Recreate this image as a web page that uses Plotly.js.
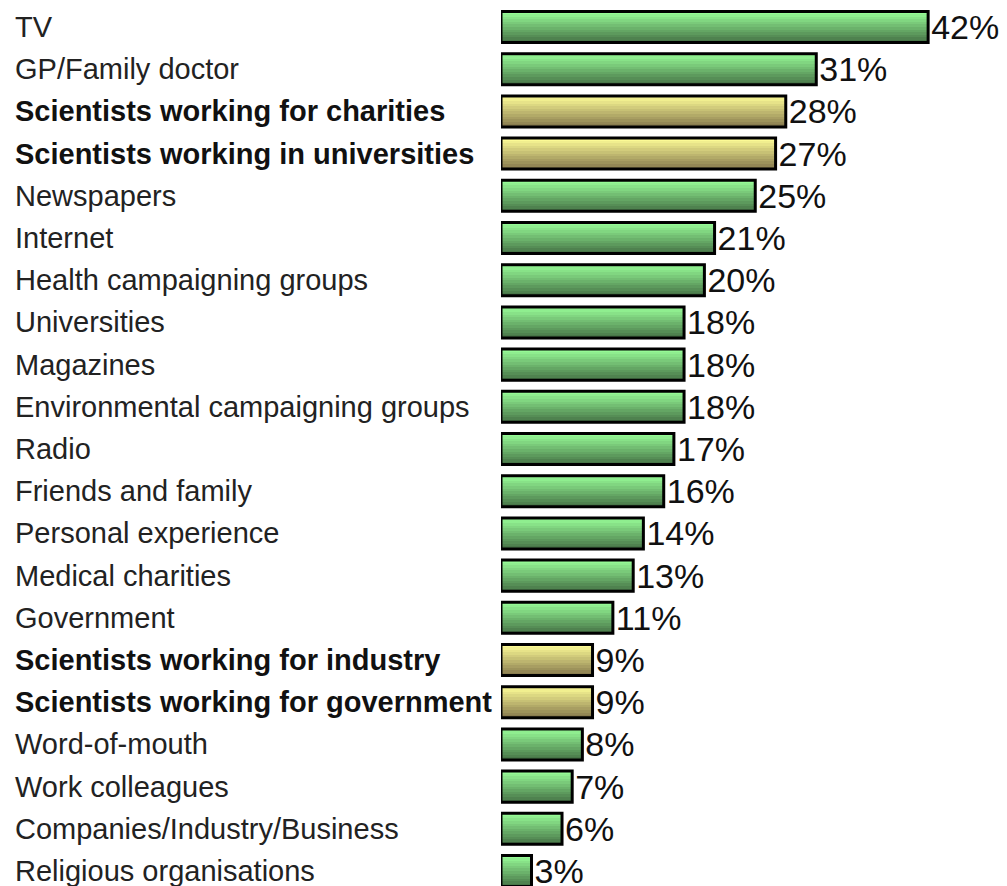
<!DOCTYPE html>
<html>
<head>
<meta charset="utf-8">
<script src="https://cdn.plot.ly/plotly-3.0.1.min.js"></script>
<style>html,body{margin:0;padding:0;background:#fff;}#chart{width:1007px;height:886px;}</style>
</head>
<body>
<div id="chart"></div>
<script>
const categories = [
  "TV", "GP/Family doctor", "Scientists working for charities", "Scientists working in universities",
  "Newspapers", "Internet", "Health campaigning groups", "Universities", "Magazines",
  "Environmental campaigning groups", "Radio", "Friends and family", "Personal experience",
  "Medical charities", "Government", "Scientists working for industry",
  "Scientists working for government", "Word-of-mouth", "Work colleagues",
  "Companies/Industry/Business", "Religious organisations"
];
const values = [42, 31, 28, 27, 25, 21, 20, 18, 18, 18, 17, 16, 14, 13, 11, 9, 9, 8, 7, 6, 3];
const isScientist = [false, false, true, true, false, false, false, false, false, false, false,
  false, false, false, false, true, true, false, false, false, false];

// style: vertical gradient stripes (top light -> bottom dark)
const greenTop = [150, 250, 150], greenBot = [72, 118, 72];
const yellowTop = [252, 250, 150], yellowBot = [136, 124, 78];
const NSTRIPE = 12;
const BW = 0.735;

function mix(a, b, t) {
  return 'rgb(' + a.map((v, i) => Math.round(v + (b[i] - v) * t)).join(',') + ')';
}

const traces = [];
for (let s = 0; s < NSTRIPE; s++) {
  const t = s / (NSTRIPE - 1);
  traces.push({
    type: 'bar', orientation: 'h',
    y: categories, x: values,
    width: BW / NSTRIPE + 0.002,
    offset: -BW / 2 + s * BW / NSTRIPE,
    marker: {
      color: isScientist.map(sc => sc ? mix(yellowTop, yellowBot, t) : mix(greenTop, greenBot, t)),
      line: {width: 0}
    },
    hoverinfo: 'skip', showlegend: false
  });
}
traces.push({
  type: 'bar', orientation: 'h',
  y: categories, x: values,
  width: BW, offset: -BW / 2,
  marker: {color: 'rgba(0,0,0,0)', line: {color: '#000', width: 3}},
  text: values.map(v => v + '%'),
  textposition: 'outside',
  constraintext: 'none',
  cliponaxis: false,
  textfont: {family: 'Liberation Sans, Arial, sans-serif', size: 34, color: '#111'},
  showlegend: false
});

const annotations = categories.map((c, i) => ({
  xref: 'paper', yref: 'y', x: (13 - 501) / 506, y: c,
  xanchor: 'left', yanchor: 'middle', showarrow: false,
  text: isScientist[i] ? '<b>' + c + '</b>' : c,
  font: {family: 'Liberation Sans, Arial, sans-serif', size: 29, color: isScientist[i] ? '#111' : '#222'}
}));

const layout = {
  width: 1007, height: 886,
  margin: {l: 501, r: 0, t: 6, b: 0},
  paper_bgcolor: '#fff', plot_bgcolor: '#fff',
  barmode: 'overlay', bargap: 0,
  xaxis: {range: [0, 506 / 10.17], showgrid: false, zeroline: false, showticklabels: false, showline: false, fixedrange: true},
  yaxis: {type: 'category', range: [20.355, -0.498], showgrid: false, zeroline: false, showticklabels: false, showline: false, ticks: ''},
  annotations: annotations,
  showlegend: false
};

Plotly.newPlot('chart', traces, layout, {displayModeBar: false, staticPlot: true});
</script>
</body>
</html>
